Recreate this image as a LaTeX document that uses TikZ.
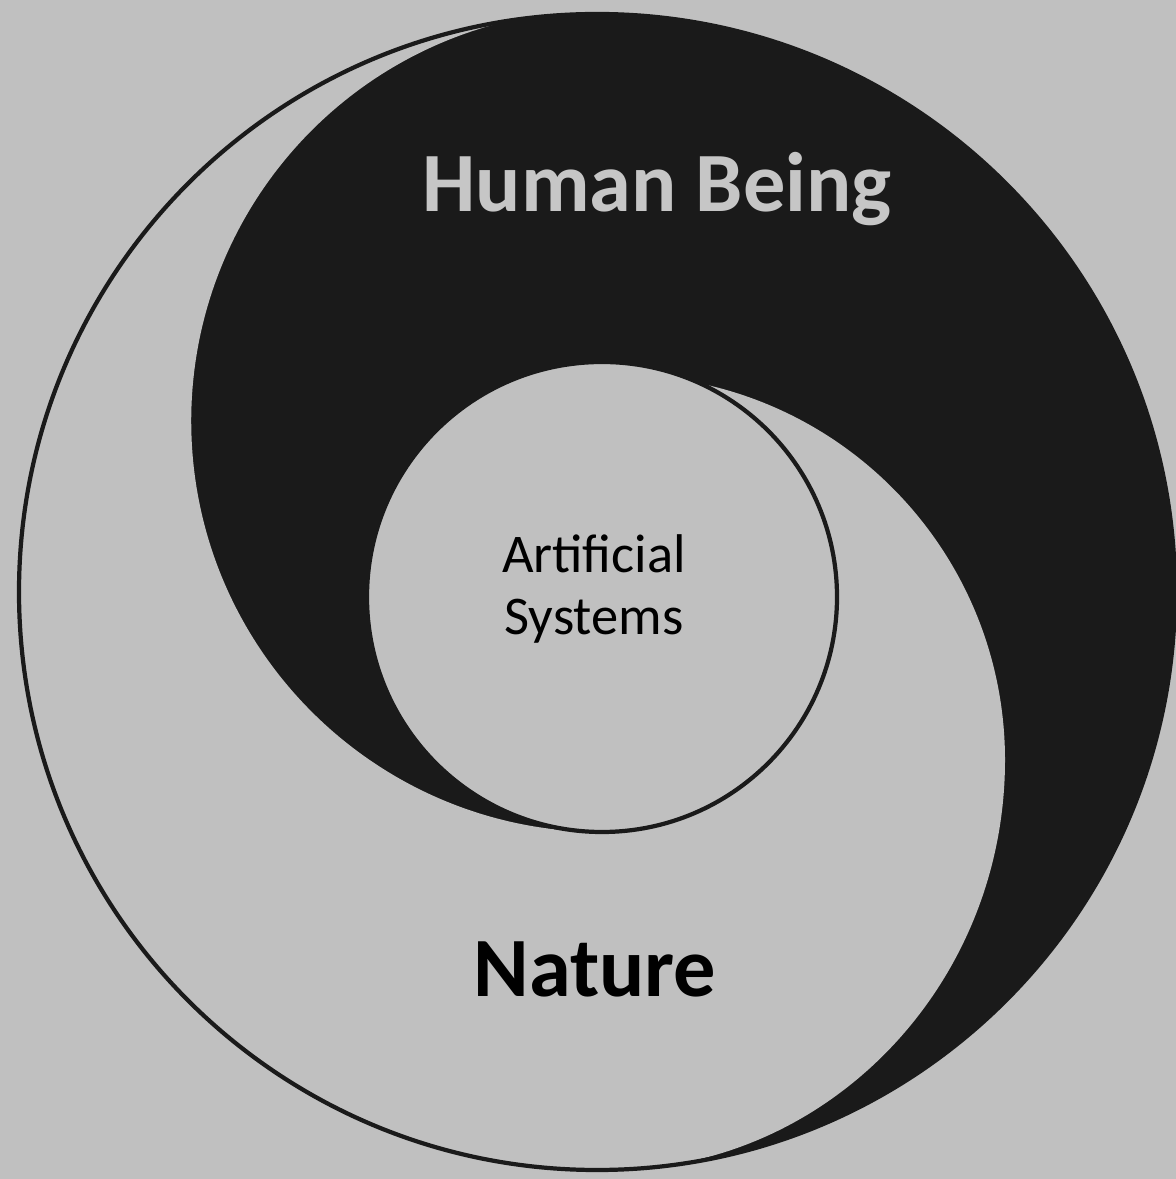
\documentclass[tikz,border=0pt]{standalone}
\usepackage{fontspec}
\setmainfont{Carlito}
\usetikzlibrary{calc}

\definecolor{bgGray}{HTML}{C0C0C0}
\definecolor{inkBlack}{HTML}{1A1A1A}
\definecolor{capGray}{HTML}{C6C6C6}

\begin{document}
\begin{tikzpicture}[x=0.01cm, y=0.01cm, line cap=round, line join=round]

% ---------------- styles ----------------
\tikzset{
  yyPage/.style  ={fill=bgGray},
  yyDark/.style  ={fill=inkBlack},
  yyLight/.style ={fill=bgGray},
  yyRim/.style   ={draw=inkBlack, line width=1.2pt},
  yyBig/.style   ={font=\bfseries\fontsize{24}{28}\selectfont},
  yySmall/.style ={font=\fontsize{15.5}{17.6}\selectfont, align=center}
}

% ---------------- parameters ----------------
\def\Rout{578}   % outer ring radius
\def\Rin{235}    % inner disc radius
\def\Rleft{411}  % left edge of the dark swirl
\def\Rtail{385}  % upper part of the light tail

\coordinate (outerC) at (597,587);
\coordinate (innerC) at (602,582);

% page
\useasboundingbox (0,0) rectangle (1176,1179);
\path[yyPage] (0,0) rectangle (1176,1179);

% ---------------- dark disc ----------------
\path[yyDark] (outerC) circle[radius=\Rout];

% ---------------- light swirl (ONE closed path) ----------------
\path[yyLight]
  ($(outerC)+(100.4:\Rout)$) arc[start angle=100.4, end angle=271.3, radius=\Rout]
  .. controls +(217,0) and (1005,193) .. (1005,419)
  arc[start angle=0, end angle=78, radius=\Rtail]
  arc[start angle=65.4, end angle=270, radius=\Rin]
  arc[start angle=270, end angle=105.2, radius=\Rleft]
  -- cycle;

% ---------------- outlines ----------------
\draw[yyRim] (outerC) circle[radius=\Rout];
\draw[yyRim] (innerC) circle[radius=\Rin];

% ---------------- labels ----------------
\node[yyBig, text=capGray, anchor=base] (humanLbl) at (657,967) {Human Being};
\node[yyBig, text=black, anchor=base] (natureLbl) at (595,182) {Nature};
\node[yySmall, text=black] (artLbl) at (594,590) {Artificial\\Systems};

\end{tikzpicture}
\end{document}
